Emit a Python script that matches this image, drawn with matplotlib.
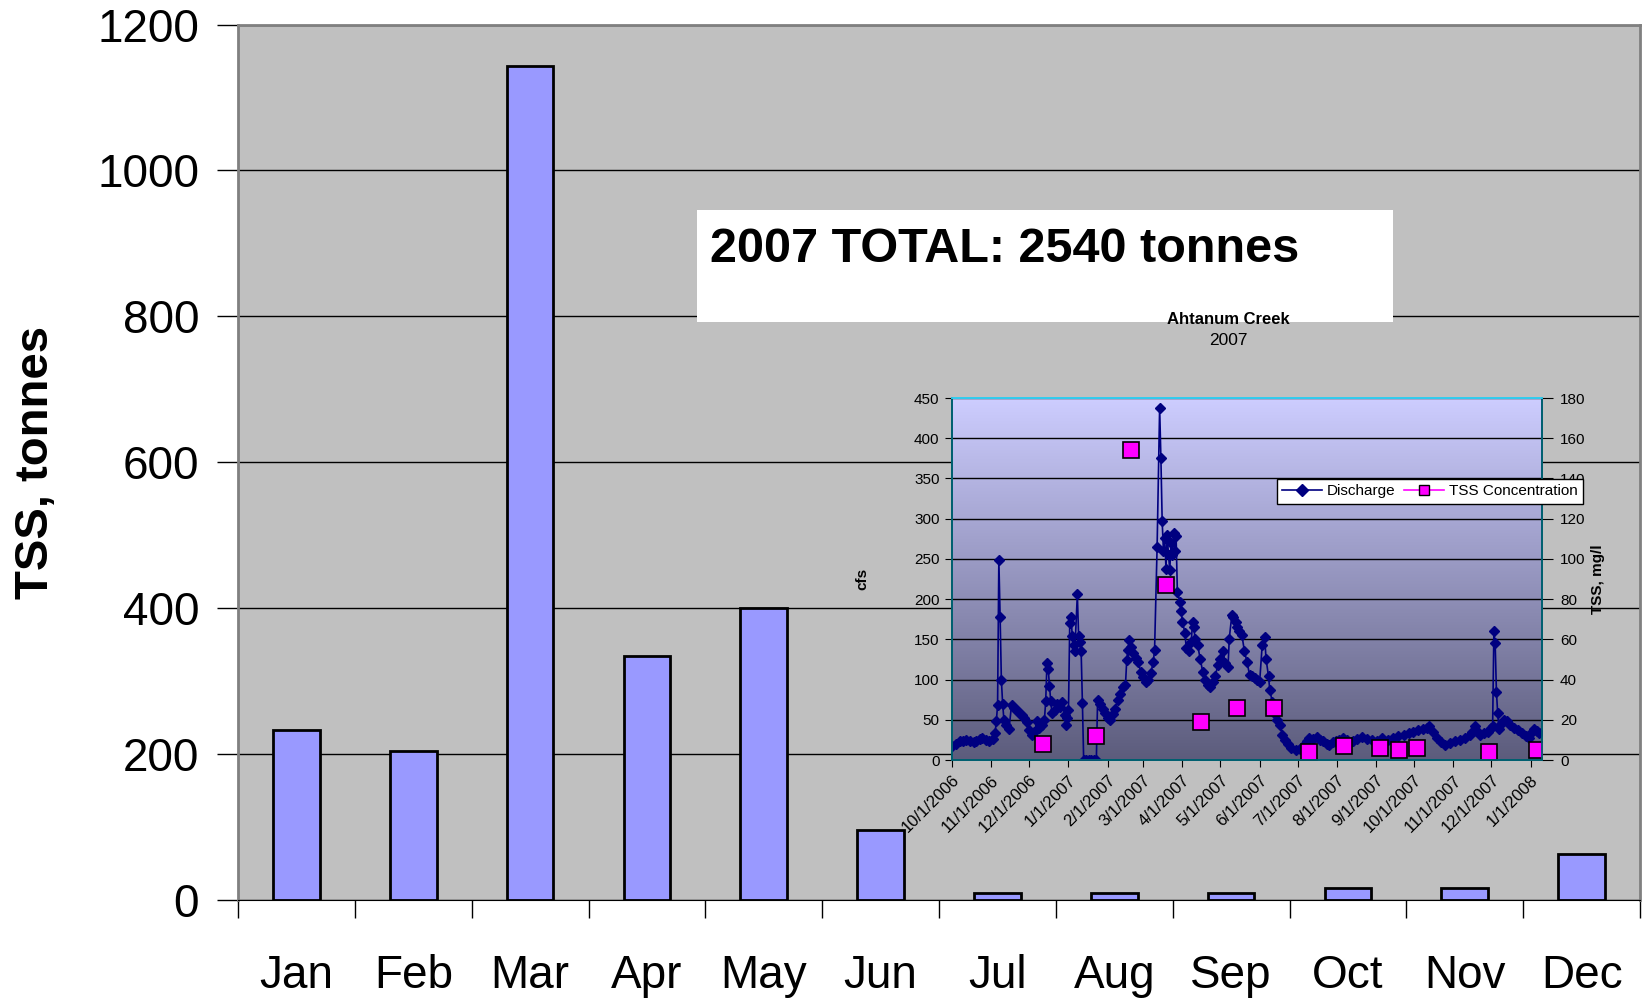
import numpy as np
import matplotlib.pyplot as plt
import matplotlib.dates as mdates
from matplotlib.patches import Rectangle
from matplotlib.lines import Line2D
from matplotlib.ticker import FuncFormatter, MultipleLocator

plt.rcParams['font.family'] = ['Liberation Sans', 'DejaVu Sans']

# Monthly TSS load, 2007
months = ['Jan', 'Feb', 'Mar', 'Apr', 'May', 'Jun',
          'Jul', 'Aug', 'Sep', 'Oct', 'Nov', 'Dec']
tss_tonnes = [233, 204, 1143, 334, 400, 96, 9, 9, 9, 17, 17, 63]
total_text = '2007 TOTAL: 2540 tonnes'

# Inset: Ahtanum Creek discharge, days counted from 10/1/2006
start_date = np.datetime64('2006-10-01')
q_day = [0, 3, 6, 9, 11, 14, 17, 19, 22, 24, 27, 29, 32, 34, 35, 36, 37, 38, 39, 40,
         41, 43, 45, 47, 49, 51, 53, 55, 57, 59, 61, 63, 65, 67, 69, 71, 73, 74, 75, 76,
         77, 78, 79, 81, 83, 85, 87, 89, 90, 91, 92, 93, 94, 95, 96, 97, 99, 100, 101, 102,
         103, 104, 106, 108, 110, 112, 114, 115, 117, 119, 121, 123, 125, 127, 129, 131, 133, 135, 137, 138,
         139, 140, 141, 143, 145, 147, 149, 151, 153, 155, 157, 159, 160, 162, 164, 165, 166, 167, 168, 169,
         170, 171, 172, 173, 174, 175, 176, 177, 178, 180, 181, 182, 184, 185, 187, 189, 190, 191, 192, 194,
         196, 198, 200, 202, 204, 206, 208, 210, 212, 214, 216, 218, 219, 221, 222, 224, 225, 227, 229, 231,
         233, 235, 237, 239, 241, 243, 245, 247, 248, 250, 251, 253, 255, 257, 259, 261, 263, 265, 268, 272,
         275, 277, 280, 282, 285, 288, 291, 293, 296, 298, 301, 303, 306, 309, 312, 315, 317, 320, 324, 328,
         332, 336, 340, 344, 348, 352, 357, 361, 364, 368, 372, 375, 377, 380, 383, 386, 389, 393, 397, 401,
         405, 409, 411, 413, 415, 417, 420, 423, 426, 427, 428, 429, 430, 431, 432, 434, 436, 438, 441, 444,
         447, 450, 453, 456, 458, 460, 462, 464]
q_cfs = [18, 20, 23, 24, 25, 23, 22, 23, 26, 27, 25, 23, 26, 33, 48, 68, 249, 178, 99, 70,
         50, 44, 38, 68, 65, 62, 59, 56, 52, 47, 37, 31, 35, 48, 40, 43, 50, 73, 120, 113,
         92, 73, 58, 62, 70, 66, 72, 56, 44, 52, 62, 170, 178, 154, 143, 135, 206, 154, 147, 135,
         71, 0, 0, 0, 0, 0, 0, 75, 70, 64, 58, 52, 50, 57, 64, 75, 82, 91, 93, 124,
         137, 149, 141, 133, 127, 122, 110, 103, 97, 99, 108, 122, 137, 265, 438, 375, 297, 260, 276, 238,
         280, 255, 236, 270, 255, 282, 260, 278, 209, 197, 185, 172, 158, 139, 135, 147, 172, 165, 150, 143,
         126, 110, 100, 93, 91, 97, 105, 118, 125, 135, 121, 115, 151, 180, 178, 172, 165, 160, 155, 135,
         122, 106, 104, 102, 100, 97, 143, 153, 126, 104, 87, 72, 57, 50, 43, 31, 25, 20, 15, 12,
         14, 17, 24, 27, 26, 29, 25, 23, 20, 19, 22, 23, 25, 27, 25, 22, 23, 26, 29, 26,
         25, 24, 27, 25, 27, 30, 31, 33, 35, 37, 38, 40, 42, 35, 27, 22, 19, 21, 23, 25,
         27, 31, 35, 42, 36, 31, 33, 35, 40, 42, 160, 145, 85, 58, 39, 45, 50, 48, 44, 40,
         37, 33, 30, 27, 35, 39, 36, 33]

# TSS concentration samples
tss_dates = ['2006-12-12', '2007-01-23', '2007-02-19', '2007-03-19', '2007-04-16',
             '2007-05-14', '2007-06-12', '2007-07-10', '2007-08-07', '2007-09-04',
             '2007-09-19', '2007-10-03', '2007-11-29', '2008-01-06']
tss_mgl = [8, 12, 154, 87, 19, 26, 26, 4, 7, 6, 5, 6, 4, 5]

W, H = 1646, 998
fig = plt.figure(figsize=(W / 100, H / 100), dpi=100)

# ---- main bar chart ----
ax = fig.add_axes([238 / W, 1 - 900 / H, 1402 / W, 875.5 / H])
ax.set_facecolor('#C0C0C0')
x = np.arange(len(months))
ax.bar(x, tss_tonnes, width=0.4, color='#9999FF', edgecolor='black', linewidth=2, zorder=2)
ax.set_xlim(-0.5, len(months) - 0.5)
ax.set_ylim(0, 1200)
ax.yaxis.set_major_locator(MultipleLocator(200))
ax.grid(axis='y', color='black', linewidth=1)
ax.set_axisbelow(True)
ax.set_xticks(x)
ax.set_xticklabels(months)
ax.set_xticks(np.arange(-0.5, len(months)), minor=True)
ax.tick_params(axis='x', which='major', length=0, pad=39, labelsize=33)
ax.tick_params(axis='x', which='minor', length=13, width=1, color='black')
ax.tick_params(axis='y', length=15, width=1, pad=13, labelsize=33)
for s in ['left', 'top', 'right']:
    ax.spines[s].set_color('#808080')
    ax.spines[s].set_linewidth(2)
ax.spines['bottom'].set_color('black')
fig.text(36 / W, 1 - 462 / H, 'TSS, tonnes', rotation=90, ha='center', va='center',
         fontsize=34, fontweight='bold')

# white annotation box
fig.add_artist(Rectangle((697 / W, 1 - 322 / H), 696 / W, 112 / H, transform=fig.transFigure,
                         facecolor='white', edgecolor='none', zorder=1))
fig.text(710 / W, 1 - 249 / H, total_text, ha='left', va='center', fontsize=35,
         fontweight='bold', zorder=2)

# ---- inset: discharge and TSS concentration ----
ax_in = fig.add_axes([952 / W, 1 - 760 / H, 590 / W, 362 / H])
ax_in.set_zorder(3)
q_dates = start_date + np.array(q_day).astype('timedelta64[D]')
ax_in.plot(q_dates, q_cfs, color='#000080', lw=1.2, marker='D', markersize=5, zorder=3)

ax_r = ax_in.twinx()
ax_r.set_zorder(4)
ax_r.plot(np.array(tss_dates, dtype='datetime64[D]'), tss_mgl, ls='none', marker='s',
          markersize=11, markerfacecolor='#FF00FF', markeredgecolor='black', markeredgewidth=1.2)

# gradient background
top = np.array([205, 205, 255]) / 255
bot = np.array([92, 92, 124]) / 255
t = np.linspace(0, 1, 256)[:, None]
grad = (top * (1 - t) + bot * t)[:, None, :]
ax_in.imshow(grad, extent=[0, 1, 0, 1], transform=ax_in.transAxes, aspect='auto', zorder=0)

ax_in.set_xlim(np.datetime64('2006-10-01'), np.datetime64('2008-01-10'))
ax_in.set_ylim(0, 450)
ax_r.set_ylim(0, 180)
ax_in.yaxis.set_major_locator(MultipleLocator(50))
ax_r.yaxis.set_major_locator(MultipleLocator(20))
ax_in.grid(axis='y', color='black', linewidth=1)
ax_in.set_axisbelow(True)

ax_in.xaxis.set_major_locator(mdates.MonthLocator())
ax_in.xaxis.set_major_formatter(FuncFormatter(
    lambda v, pos: '{0.month}/{0.day}/{0.year}'.format(mdates.num2date(v))))
ax_in.tick_params(axis='both', labelsize=11, length=5, pad=4)
ax_in.tick_params(axis='x', labelsize=12)
plt.setp(ax_in.get_xticklabels(), rotation=45, ha='right', rotation_mode='anchor')
ax_r.tick_params(axis='y', labelsize=11, length=8, pad=5)

for a in (ax_in, ax_r):
    for s in ['left', 'right', 'bottom']:
        a.spines[s].set_color('#006070')
        a.spines[s].set_linewidth(1.3)
    a.spines['top'].set_color('#33CCEE')
    a.spines['top'].set_linewidth(1.3)

ax_in.set_ylabel('cfs', fontsize=11, fontweight='bold')
ax_in.yaxis.set_label_coords(-0.14, 0.5)
ax_r.set_ylabel('TSS, mg/l', fontsize=11, fontweight='bold', rotation=90)
ax_r.yaxis.set_label_coords(1.083, 0.5)

ax_in.text(0.468, 1.218, 'Ahtanum Creek', transform=ax_in.transAxes, ha='center', va='center',
           fontsize=12, fontweight='bold')
ax_in.text(0.468, 1.160, '2007', transform=ax_in.transAxes, ha='center', va='center', fontsize=12.5)

handles = [Line2D([], [], color='#000080', lw=1.2, marker='D', markersize=6, label='Discharge'),
           Line2D([], [], color='#FF00FF', lw=1.2, marker='s', markersize=7,
                  markerfacecolor='#FF00FF', markeredgecolor='black', label='TSS Concentration')]
leg = fig.legend(handles=handles, loc='upper left', bbox_to_anchor=(1277 / W, 1 - 479 / H),
                 ncol=2, fontsize=11, frameon=True, fancybox=False, edgecolor='black',
                 framealpha=1, borderpad=0.35, handlelength=2.6, handletextpad=0.3,
                 columnspacing=0.6, borderaxespad=0)
leg.get_frame().set_linewidth(1)
leg.set_zorder(6)

fig.savefig('out.png', dpi=100)
